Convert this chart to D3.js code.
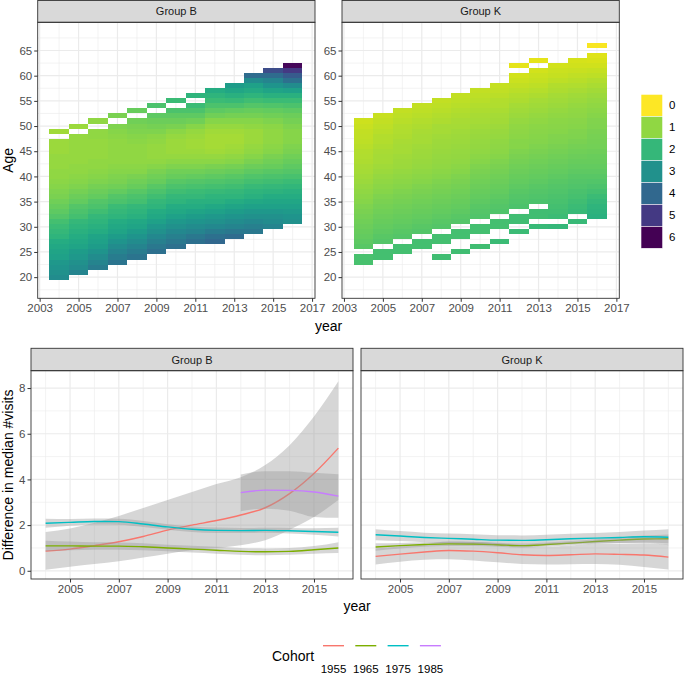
<!DOCTYPE html>
<html><head><meta charset="utf-8">
<script src="https://cdn.jsdelivr.net/npm/d3@7"></script>
<style>body{margin:0;background:#fff}svg{display:block;font-family:"Liberation Sans",Arial,sans-serif}</style>
</head><body><svg id="c" width="685" height="674"></svg>
<script>
// ---------------- DATA ----------------
const heatYears = [2004,2005,2006,2007,2008,2009,2010,2011,2012,2013,2014,2015,2016];
const groupBFirstAge = [20,21,22,23,24,25,26,27,27,28,29,30,31];
const groupBValues = [
 [3.1,3.0,2.9,2.8,2.6,2.5,2.4,2.3,2.1,2.0,1.9,1.8,1.6,1.5,1.4,1.3,1.2,1.15,1.1,1.05,1.0,1.0,0.95,0.95,0.95,0.9,0.9,0.9,null,0.85],
 [3.3,3.1,3.0,2.8,2.7,2.5,2.4,2.3,2.2,2.1,2.0,1.8,1.7,1.6,1.45,1.35,1.25,1.15,1.1,1.05,1.0,1.0,0.95,0.95,0.95,0.95,0.95,0.95,null,0.9],
 [3.5,3.3,3.1,2.9,2.7,2.6,2.5,2.3,2.2,2.1,2.0,1.85,1.7,1.6,1.45,1.35,1.25,1.15,1.1,1.05,1.0,1.0,0.95,0.95,0.95,0.95,1.0,1.0,null,1.0],
 [3.7,3.5,3.3,3.1,2.9,2.7,2.5,2.4,2.3,2.1,2.0,1.9,1.7,1.6,1.45,1.3,1.2,1.15,1.1,1.05,1.0,1.0,1.0,1.0,1.0,1.05,1.1,1.15,null,1.2],
 [3.7,3.5,3.3,3.1,2.9,2.7,2.5,2.4,2.2,2.1,2.0,1.8,1.7,1.55,1.4,1.3,1.2,1.1,1.05,1.0,1.0,1.0,1.0,1.05,1.1,1.15,1.2,1.3,null,1.4],
 [3.8,3.6,3.4,3.2,3.0,2.8,2.6,2.4,2.3,2.1,2.0,1.85,1.7,1.55,1.4,1.3,1.2,1.1,1.0,0.95,0.95,0.95,1.0,1.05,1.15,1.25,1.35,1.5,null,1.7],
 [3.8,3.6,3.4,3.2,3.0,2.8,2.6,2.4,2.3,2.1,2.0,1.85,1.7,1.55,1.4,1.3,1.15,1.05,0.95,0.9,0.9,0.9,0.95,1.05,1.2,1.35,1.5,1.7,null,1.9],
 [3.8,3.6,3.3,3.1,2.9,2.7,2.5,2.3,2.2,2.0,1.9,1.75,1.6,1.45,1.3,1.15,1.05,0.95,0.9,0.85,0.85,0.9,0.95,1.1,1.3,1.5,1.7,1.9,null,2.1],
 [4.0,3.8,3.5,3.2,3.0,2.8,2.6,2.4,2.2,2.1,1.95,1.8,1.65,1.5,1.35,1.2,1.05,0.95,0.85,0.8,0.8,0.8,0.85,0.95,1.1,1.3,1.5,1.7,1.9,2.1,2.3],
 [3.9,3.6,3.3,3.1,2.9,2.7,2.5,2.3,2.1,2.0,1.85,1.7,1.55,1.4,1.25,1.1,1.0,0.9,0.85,0.8,0.8,0.85,0.95,1.1,1.25,1.45,1.7,1.95,2.2,2.45,2.7],
 [3.6,3.4,3.2,3.0,2.8,2.6,2.4,2.2,2.1,1.95,1.8,1.65,1.5,1.35,1.2,1.1,1.0,0.95,0.9,0.9,0.9,1.0,1.1,1.25,1.4,1.6,1.85,2.1,2.35,2.6,3.1,3.9],
 [3.3,3.1,3.0,2.8,2.6,2.45,2.3,2.15,2.0,1.85,1.7,1.55,1.4,1.3,1.2,1.1,1.05,1.0,1.0,1.0,1.05,1.15,1.3,1.45,1.65,1.9,2.2,2.5,2.9,3.3,3.9,4.6],
 [3.0,2.9,2.75,2.6,2.45,2.3,2.2,2.05,1.9,1.75,1.6,1.5,1.4,1.3,1.2,1.15,1.1,1.1,1.1,1.15,1.25,1.35,1.5,1.7,1.9,2.2,2.6,3.1,3.8,4.3,5.0,5.9]
];
const groupKFirstAge = [23,24,25,26,24,25,26,27,29,30,30,31,32];
const groupKValues = [
 [1.75,1.75,null,1.55,1.5,1.45,1.4,1.35,1.3,1.25,1.2,1.15,1.1,1.05,1.0,0.95,0.9,0.85,0.8,0.78,0.75,0.72,0.7,0.65,0.6,0.58,0.55,0.5,0.45],
 [1.8,1.8,null,1.6,1.55,1.5,1.45,1.4,1.35,1.3,1.25,1.2,1.15,1.1,1.05,1.0,0.95,0.9,0.85,0.82,0.8,0.78,0.75,0.7,0.68,0.65,0.6,0.55,0.5],
 [1.8,1.8,null,1.6,1.55,1.5,1.45,1.4,1.35,1.3,1.25,1.2,1.15,1.1,1.05,1.0,0.95,0.9,0.88,0.85,0.82,0.8,0.78,0.75,0.72,0.68,0.65,0.6,0.55],
 [1.8,1.8,null,1.6,1.55,1.5,1.45,1.4,1.35,1.3,1.25,1.2,1.15,1.1,1.05,1.0,0.95,0.92,0.9,0.88,0.85,0.82,0.8,0.78,0.75,0.7,0.65,0.6,0.55],
 [1.85,null,null,1.8,1.8,null,1.6,1.55,1.5,1.45,1.4,1.35,1.3,1.25,1.2,1.15,1.1,1.05,1.0,0.98,0.95,0.92,0.9,0.88,0.85,0.82,0.8,0.75,0.7,0.65,0.6,0.55],
 [1.85,null,null,1.8,1.8,null,1.6,1.55,1.5,1.45,1.4,1.35,1.3,1.25,1.2,1.15,1.1,1.05,1.0,0.98,0.95,0.92,0.9,0.88,0.85,0.82,0.78,0.74,0.7,0.65,0.6,0.55],
 [1.85,null,null,1.8,1.8,null,1.65,1.6,1.55,1.5,1.45,1.4,1.35,1.3,1.25,1.2,1.15,1.1,1.05,1.0,0.98,0.95,0.92,0.9,0.86,0.82,0.78,0.74,0.7,0.65,0.6,0.55],
 [1.9,null,null,1.8,1.8,null,1.65,1.6,1.55,1.5,1.45,1.4,1.35,1.3,1.25,1.2,1.15,1.1,1.05,1.02,1.0,0.96,0.92,0.88,0.84,0.8,0.76,0.72,0.68,0.63,0.58,0.53],
 [1.9,null,1.85,1.85,null,1.7,1.65,1.6,1.55,1.5,1.45,1.4,1.35,1.3,1.25,1.2,1.15,1.1,1.08,1.05,1.02,1.0,0.95,0.9,0.85,0.8,0.75,0.7,0.62,0.55,0.48,0.42,null,0.25],
 [1.95,null,1.85,1.85,null,1.7,1.65,1.6,1.55,1.5,1.45,1.4,1.35,1.3,1.25,1.2,1.15,1.12,1.1,1.07,1.05,1.0,0.95,0.9,0.85,0.8,0.74,0.67,0.6,0.53,0.47,0.42,null,0.25],
 [2.0,null,1.9,1.85,1.8,1.75,1.7,1.65,1.6,1.55,1.5,1.45,1.4,1.35,1.3,1.25,1.2,1.17,1.14,1.1,1.07,1.04,1.0,0.95,0.9,0.85,0.8,0.74,0.68,0.6,0.53,0.47,0.42],
 [1.95,null,1.95,1.9,1.85,1.78,1.72,1.66,1.6,1.55,1.5,1.45,1.4,1.35,1.3,1.25,1.2,1.17,1.14,1.1,1.07,1.03,1.0,0.95,0.9,0.85,0.78,0.72,0.65,0.58,0.5,0.44,0.38],
 [2.2,2.15,2.1,2.0,1.9,1.8,1.7,1.62,1.55,1.5,1.45,1.4,1.36,1.32,1.28,1.25,1.22,1.2,1.17,1.14,1.1,1.05,1.0,0.95,0.9,0.83,0.76,0.68,0.6,0.52,0.44,0.37,0.3,null,0.05]
];
const legendLevels = [0,1,2,3,4,5,6];
const heatXTicks = [2003,2005,2007,2009,2011,2013,2015,2017];
const heatYTicks = [20,25,30,35,40,45,50,55,60,65];

const smoothYears = [2004,2005,2006,2007,2008,2009,2010,2011,2012,2013,2014,2015,2016];
const cohorts = ["1955","1965","1975","1985"];
const cohortColors = ["#F8766D","#7CAE00","#00BFC4","#C77CFF"];
// Group B
const b1955 = [0.86,0.95,1.1,1.27,1.5,1.78,2.0,2.2,2.44,2.76,3.38,4.26,5.37];
const b1955Lo = [0.05,0.18,0.3,0.42,0.58,0.75,0.9,1.0,1.12,1.34,1.8,2.35,3.1];
const b1955Hi = [1.7,1.85,2.1,2.4,2.75,3.1,3.45,3.8,4.1,4.63,5.5,6.75,8.3];
const b1965 = [1.09,1.09,1.08,1.08,1.05,1.0,0.95,0.9,0.85,0.83,0.85,0.92,1.0];
const b1965Lo = [0.86,0.9,0.92,0.92,0.9,0.86,0.8,0.75,0.7,0.68,0.7,0.75,0.78];
const b1965Hi = [1.32,1.28,1.25,1.24,1.2,1.14,1.1,1.05,1.0,0.98,1.0,1.08,1.25];
const b1975 = [2.08,2.12,2.16,2.15,2.05,1.92,1.82,1.77,1.76,1.77,1.75,1.72,1.69];
const b1975Lo = [1.88,1.97,2.03,2.02,1.92,1.8,1.7,1.65,1.65,1.66,1.63,1.58,1.5];
const b1975Hi = [2.28,2.27,2.29,2.28,2.18,2.04,1.94,1.89,1.87,1.88,1.87,1.86,1.88];
const b1985Years = [2012,2013,2014,2015,2016];
const b1985 = [3.42,3.53,3.52,3.45,3.27];
const b1985Lo = [2.61,2.72,2.63,2.36,2.32];
const b1985Hi = [4.22,4.36,4.36,4.29,4.23];
// Group K
const k1955 = [0.63,0.73,0.82,0.89,0.86,0.79,0.7,0.67,0.7,0.74,0.72,0.69,0.6];
const k1955Lo = [0.28,0.4,0.48,0.5,0.45,0.37,0.3,0.28,0.29,0.3,0.26,0.17,0.06];
const k1955Hi = [0.98,1.06,1.16,1.28,1.27,1.21,1.1,1.06,1.11,1.18,1.18,1.21,1.14];
const k1965 = [1.04,1.1,1.15,1.18,1.17,1.14,1.1,1.15,1.21,1.28,1.34,1.39,1.4];
const k1965Lo = [0.88,0.98,1.05,1.09,1.08,1.05,1.01,1.06,1.12,1.18,1.22,1.24,1.21];
const k1965Hi = [1.2,1.22,1.25,1.27,1.26,1.23,1.19,1.24,1.3,1.38,1.46,1.54,1.59];
const k1975 = [1.58,1.52,1.46,1.42,1.38,1.34,1.33,1.36,1.4,1.43,1.46,1.49,1.47];
const k1975Lo = [1.34,1.3,1.25,1.21,1.16,1.12,1.11,1.14,1.18,1.21,1.22,1.22,1.12];
const k1975Hi = [1.82,1.74,1.67,1.63,1.6,1.56,1.55,1.58,1.62,1.65,1.7,1.76,1.82];
const lineXTicks = [2005,2007,2009,2011,2013,2015];
const lineYTicks = [0,2,4,6,8];

// ---------------- DRAW ----------------
const svg = d3.select("#c");
const FONT = '"Liberation Sans",Arial,sans-serif';
const heatColor = v => d3.interpolateViridis(1 - v/6);

function panelFrame(x0,x1,y0,y1,stripTop,label,xs,ys,xMajor,xMinor,yMajor,yMinor){
  const g = svg.append("g");
  g.append("rect").attr("x",x0).attr("y",y0).attr("width",x1-x0).attr("height",y1-y0).attr("fill","#fff");
  xMinor.forEach(v=>g.append("line").attr("x1",xs(v)).attr("x2",xs(v)).attr("y1",y0).attr("y2",y1).attr("stroke","#EBEBEB").attr("stroke-width",0.6));
  yMinor.forEach(v=>g.append("line").attr("y1",ys(v)).attr("y2",ys(v)).attr("x1",x0).attr("x2",x1).attr("stroke","#EBEBEB").attr("stroke-width",0.6));
  xMajor.forEach(v=>g.append("line").attr("x1",xs(v)).attr("x2",xs(v)).attr("y1",y0).attr("y2",y1).attr("stroke","#EBEBEB").attr("stroke-width",1.2));
  yMajor.forEach(v=>g.append("line").attr("y1",ys(v)).attr("y2",ys(v)).attr("x1",x0).attr("x2",x1).attr("stroke","#EBEBEB").attr("stroke-width",1.2));
  svg.append("rect").attr("x",x0).attr("y",stripTop).attr("width",x1-x0).attr("height",y0-stripTop)
    .attr("fill","#D9D9D9").attr("stroke","#333").attr("stroke-width",0.9);
  svg.append("text").attr("x",(x0+x1)/2).attr("y",(stripTop+y0)/2+4).attr("text-anchor","middle")
    .attr("font-size",11).attr("fill","#1A1A1A").attr("font-family",FONT).text(label);
  return g;
}
function border(x0,x1,y0,y1){
  svg.append("rect").attr("x",x0).attr("y",y0).attr("width",x1-x0).attr("height",y1-y0)
    .attr("fill","none").attr("stroke","#333").attr("stroke-width",0.9);
}
function xAxis(xs,y,ticks){
  const a = d3.axisBottom(xs).tickValues(ticks).tickSize(3.5).tickPadding(2).tickFormat(d3.format("d"));
  const g = svg.append("g").attr("transform",`translate(0,${y})`).call(a);
  g.select(".domain").remove();
  g.selectAll("line").attr("stroke","#333");
  g.selectAll("text").attr("font-size",11.5).attr("fill","#4D4D4D").attr("font-family",FONT);
}
function yAxis(ys,x,ticks){
  const a = d3.axisLeft(ys).tickValues(ticks).tickSize(3.5).tickPadding(2);
  const g = svg.append("g").attr("transform",`translate(${x},0)`).call(a);
  g.select(".domain").remove();
  g.selectAll("line").attr("stroke","#333");
  g.selectAll("text").attr("font-size",11.5).attr("fill","#4D4D4D").attr("font-family",FONT);
}

// ---- top heatmaps ----
const topY0 = 22.3, topY1 = 298.3;
const heatPanels = [
  {label:"Group B", x0:37.7, x1:315, first:groupBFirstAge, vals:groupBValues},
  {label:"Group K", x0:342, x1:619.3, first:groupKFirstAge, vals:groupKValues}
];
const xMinorTop = [2004,2006,2008,2010,2012,2014,2016];
const yMinorTop = [17.5,22.5,27.5,32.5,37.5,42.5,47.5,52.5,57.5,62.5,67.5];
heatPanels.forEach(p=>{
  const xs = d3.scaleLinear().domain([2002.9,2017.15]).range([p.x0,p.x1]);
  const ys = d3.scaleLinear().domain([15.8,70.6]).range([topY1,topY0]);
  const g = panelFrame(p.x0,p.x1,topY0,topY1,0.5,p.label,xs,ys,heatXTicks,xMinorTop,heatYTicks,yMinorTop);
  const cells = [];
  heatYears.forEach((yr,i)=>{
    p.vals[i].forEach((v,j)=>{ if(v!==null) cells.push({year:yr, age:p.first[i]+j, v}); });
  });
  g.selectAll("rect.cell").data(cells).join("rect").attr("class","cell")
    .attr("shape-rendering","crispEdges")
    .attr("x",d=>xs(d.year-0.5)).attr("width",d=>xs(d.year+0.5)-xs(d.year-0.5))
    .attr("y",d=>ys(d.age+0.5)).attr("height",d=>ys(d.age-0.5)-ys(d.age+0.5))
    .attr("fill",d=>heatColor(d.v));
  border(p.x0,p.x1,topY0,topY1);
  xAxis(xs,topY1,heatXTicks);
  yAxis(ys,p.x0,heatYTicks);
});
svg.append("text").attr("x",328.5).attr("y",331).attr("text-anchor","middle").attr("font-size",14)
  .attr("font-family",FONT).attr("fill","#000").text("year");
svg.append("text").attr("transform","translate(13,160.3) rotate(-90)").attr("text-anchor","middle")
  .attr("font-size",14).attr("font-family",FONT).attr("fill","#000").text("Age");

// colour legend
const keyX = 641, keyY = 94.3, keyH = 22;
legendLevels.forEach((lv,i)=>{
  svg.append("rect").attr("x",keyX).attr("y",keyY+i*keyH).attr("width",21.7).attr("height",keyH)
    .attr("fill",heatColor(lv)).attr("stroke","#fff").attr("stroke-width",0.6);
  svg.append("text").attr("x",669).attr("y",keyY+i*keyH+keyH/2+4).attr("font-size",11.5)
    .attr("font-family",FONT).attr("fill","#000").text(lv);
});

// ---- bottom smooth panels ----
const botY0 = 370.7, botY1 = 579, botStrip = 348.3;
const xMinorBot = [2004,2006,2008,2010,2012,2014,2016];
const yMinorBot = [1,3,5,7];
const botPanels = [
  {label:"Group B", x0:31, x1:353, series:[
    {c:0, years:smoothYears, m:b1955, lo:b1955Lo, hi:b1955Hi},
    {c:1, years:smoothYears, m:b1965, lo:b1965Lo, hi:b1965Hi},
    {c:2, years:smoothYears, m:b1975, lo:b1975Lo, hi:b1975Hi},
    {c:3, years:b1985Years, m:b1985, lo:b1985Lo, hi:b1985Hi}]},
  {label:"Group K", x0:361, x1:683, series:[
    {c:0, years:smoothYears, m:k1955, lo:k1955Lo, hi:k1955Hi},
    {c:1, years:smoothYears, m:k1965, lo:k1965Lo, hi:k1965Hi},
    {c:2, years:smoothYears, m:k1975, lo:k1975Lo, hi:k1975Hi}]}
];
botPanels.forEach((p,pi)=>{
  const xs = d3.scaleLinear().domain([2003.4,2016.6]).range([p.x0,p.x1]);
  const ys = d3.scaleLinear().domain([-0.36,8.76]).range([botY1,botY0]);
  const g = panelFrame(p.x0,p.x1,botY0,botY1,botStrip,p.label,xs,ys,lineXTicks,xMinorBot,lineYTicks,yMinorBot);
  p.series.forEach(s=>{
    const pts = s.years.map((yr,i)=>({x:yr, m:s.m[i], lo:s.lo[i], hi:s.hi[i]}));
    const area = d3.area().x(d=>xs(d.x)).y0(d=>ys(d.lo)).y1(d=>ys(d.hi)).curve(d3.curveMonotoneX);
    const line = d3.line().x(d=>xs(d.x)).y(d=>ys(d.m)).curve(d3.curveMonotoneX);
    g.append("path").attr("d",area(pts)).attr("fill","#999999").attr("fill-opacity",0.4);
    g.append("path").attr("d",line(pts)).attr("fill","none").attr("stroke",cohortColors[s.c]).attr("stroke-width",1.4);
  });
  border(p.x0,p.x1,botY0,botY1);
  xAxis(xs,botY1,lineXTicks);
  if(pi===0) yAxis(ys,p.x0,lineYTicks);
});
svg.append("text").attr("x",357).attr("y",611).attr("text-anchor","middle").attr("font-size",14)
  .attr("font-family",FONT).attr("fill","#000").text("year");
svg.append("text").attr("transform","translate(13,475) rotate(-90)").attr("text-anchor","middle")
  .attr("font-size",14).attr("font-family",FONT).attr("fill","#000").text("Difference in median #visits");

// cohort legend
svg.append("text").attr("x",272).attr("y",661).attr("font-size",14).attr("font-family",FONT)
  .attr("fill","#000").text("Cohort");
cohorts.forEach((c,i)=>{
  const cx = 333.5 + i*32.3;
  svg.append("line").attr("x1",cx-10.5).attr("x2",cx+10.5).attr("y1",645.7).attr("y2",645.7)
    .attr("stroke",cohortColors[i]).attr("stroke-width",1.4);
  svg.append("text").attr("x",cx).attr("y",673).attr("text-anchor","middle").attr("font-size",11.5)
    .attr("font-family",FONT).attr("fill","#000").text(c);
});
</script></body></html>
